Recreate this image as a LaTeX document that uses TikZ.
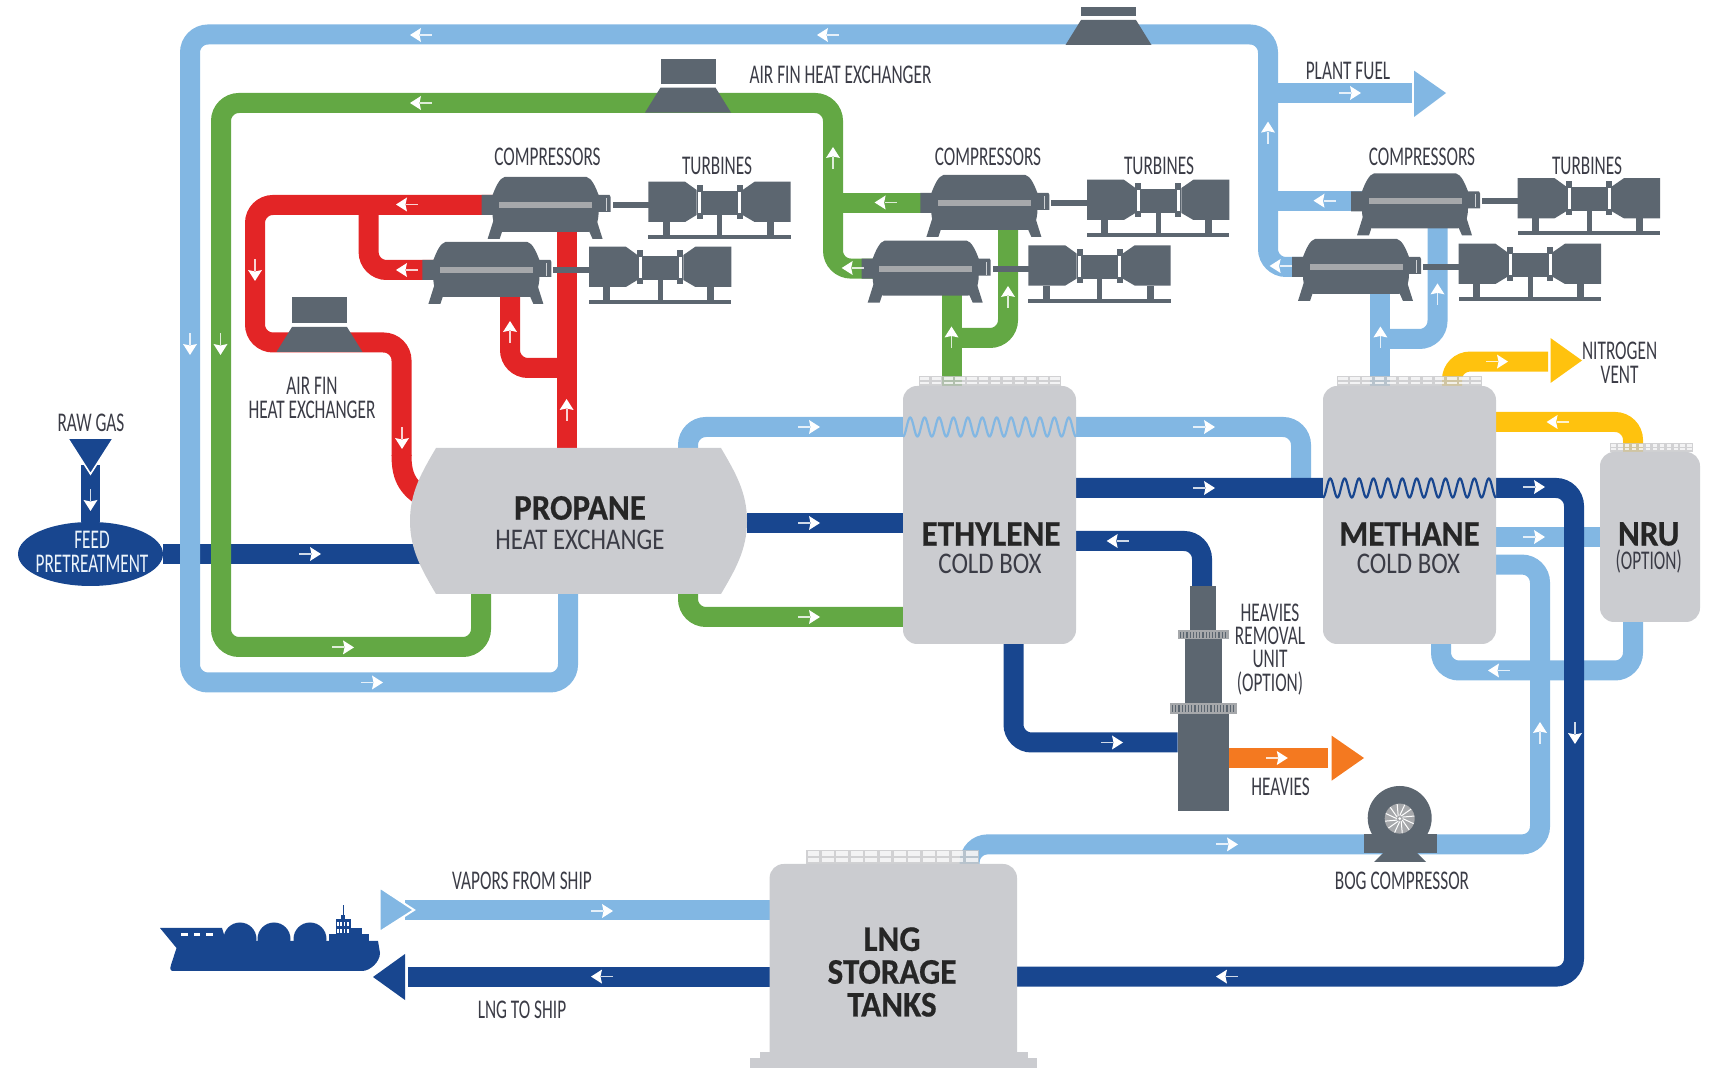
\documentclass[tikz,border=0pt]{standalone}
\usepackage{fontspec}
\usetikzlibrary{shapes.geometric}
\setmainfont{Carlito}
\newfontfamily\labfont[FakeStretch=0.64]{Carlito}
\newfontfamily\headfont[FakeStretch=0.83]{Carlito}
\newfontfamily\headbfont[FakeStretch=0.92,BoldFeatures={FakeBold=0.5}]{Carlito}
\definecolor{lb}{HTML}{82B7E3}
\definecolor{gr}{HTML}{63A844}
\definecolor{rd}{HTML}{E32526}
\definecolor{db}{HTML}{18468F}
\definecolor{vg}{HTML}{CBCCD0}
\definecolor{mg}{HTML}{5C6670}
\definecolor{ye}{HTML}{FFC20E}
\definecolor{og}{HTML}{F47920}
\definecolor{tx}{HTML}{3B3C46}
\definecolor{barg}{HTML}{A6A8AB}
\tikzset{
  pipe/.style={line width=10pt,rounded corners=9pt},
  vessel/.style={fill=vg,rounded corners=7pt,inner sep=0pt,outer sep=0pt},
  lab/.style={font=\labfont\fontsize{13.5}{15}\selectfont,text=tx,inner sep=0pt,align=center},
  wlab/.style={lab,text=white!85!lb},
  headb/.style={font=\headbfont\bfseries\fontsize{18}{19}\selectfont,text=black!85,inner sep=0pt,align=center},
  headn/.style={font=\headfont\fontsize{15}{17}\selectfont,text=tx,inner sep=0pt,align=center},
  comprun/.pic={
    \fill[mg] (-41,-28) -- (41,-28) .. controls (46,-27) and (50,-18) .. (53,-10) -- (64,-10) -- (65,-8) -- (65,7) -- (53,7) .. controls (53,16) and (50,27) .. (42,27) -- (-42,27) .. controls (-50,27) and (-53,16) .. (-53,10) -- (-64,10) -- (-64,-10) -- (-53,-10) .. controls (-50,-18) and (-46,-27) .. (-41,-28) -- cycle;
    \fill[mg] (-52,15) -- (-58,34) -- (-46,34) -- (-43,25) -- cycle;
    \fill[mg] (51,15) -- (57,34) -- (47,34) -- (43,25) -- cycle;
    \fill[barg] (-46.5,-3) rectangle (46.5,3);
    \fill[white!70!mg] (60,-7) rectangle (61,6);
    \fill[mg] (67,-3) rectangle (103,3);
    \fill[mg] (102.7,-23.3) -- (139.5,-23.3) -- (151,-15) -- (151,10) -- (139.5,17) -- (102.7,17) -- cycle;
    \fill[mg] (151,-20) rectangle (157,14);
    \fill[white] (152.5,-13) rectangle (155.5,8);
    \fill[mg] (157,-14) rectangle (191,10);
    \fill[mg] (191,-20) rectangle (197,14);
    \fill[white] (192.5,-13) rectangle (195.5,8);
    \fill[mg] (197,-15) -- (209,-23.3) -- (245,-23.3) -- (245,17) -- (209,17) -- (197,10) -- cycle;
    \fill[mg] (117,17) rectangle (124,30);
    \fill[mg] (171.5,10) rectangle (176.5,30);
    \fill[mg] (221,17) rectangle (228,30);
    \fill[mg] (102.7,30) rectangle (245,34);
  }
}
\newcommand{\flowarrow}[3]{%
  \begin{scope}[shift={(#1,#2)},rotate=#3]
    \fill[white,opacity=.8] (-11,-.9) rectangle (1,.9);
    \fill[white] (11,0) -- (0,-7) -- (1.5,0) -- (0,7) -- cycle;
  \end{scope}}
\newcommand{\airfin}[3]{%
  \begin{scope}[shift={(#1,#2)}]
    \fill[mg] (-43,0) -- (43,0) -- (27.5,-25) -- (-27.5,-25) -- cycle;
    \fill[mg] (-27.5,-28.5) rectangle (27.5,#3);
  \end{scope}}
\newcommand{\railing}[4]{% x1 x2 y1 y2
  \fill[barg!65!white,opacity=.8] (#1,#3) rectangle (#2,#4);
  \pgfmathsetmacro{\rw}{(#2-#1)/12}
  \foreach \i in {0,...,11}{
    \fill[white,opacity=.75] ({#1+\i*\rw+1.3},{#3+1.5}) rectangle ({#1+(\i+1)*\rw-1.3},{(#3+#4)/2-.6});
    \fill[white,opacity=.75] ({#1+\i*\rw+1.3},{(#3+#4)/2+.6}) rectangle ({#1+(\i+1)*\rw-1.3},{#4-1.5});
  }}
\begin{document}
\begin{tikzpicture}[x=0.5pt,y=-0.5pt]
\clip (0,0) rectangle (1709,1068);
% ---- vessels as named anchors
\node[inner sep=0pt,outer sep=0pt,minimum width=168.5pt,minimum height=73pt] (propane) at (578.5,521) {};
\node[vessel,minimum width=86.5pt,minimum height=129pt,fill=none] (ethylene) at (989.5,515) {};
\node[vessel,minimum width=86.5pt,minimum height=129pt,fill=none] (methane) at (1409.5,515) {};
\node[vessel,minimum width=50pt,minimum height=85pt,fill=none] (nru) at (1650,537) {};
\node[vessel,minimum width=123.7pt,minimum height=102pt,fill=none] (lng) at (893.3,966) {};
\node[ellipse,inner sep=0pt,outer sep=0pt,minimum width=72.5pt,minimum height=32pt] (feed) at (90.5,554) {};
\coordinate (plantEnd) at (1412,93);
\coordinate (nitroEnd) at (1548,361.6);
\coordinate (heavEnd) at (1328,758);
\coordinate (colTop) at (1202,586);
\coordinate (colSide) at (1177.5,742.5);
\coordinate (colEast) at (1228.5,758);
\coordinate (vapEnd) at (405,910.5);
\coordinate (shipEnd) at (408,976.6);
\coordinate (compA) at (545.6,205);
\coordinate (compB) at (486.4,270);
\coordinate (compC) at (984.4,203);
\coordinate (compD) at (925.7,268.6);
\coordinate (compE) at (1415,201.4);
\coordinate (compF) at (1356,267);
% ---- pipes
\draw[pipe,db,rounded corners=0pt] (feed) -- (propane.center |- feed);
\draw[pipe,db,rounded corners=0pt] (propane.east |- 0,523) -- (ethylene.west |- 0,523);
\draw[line width=9.5pt,db] (90.5,465) -- (feed);
% light blue loop
\draw[pipe,lb] (propane.south -| 568,0) -- (568,682.5) -- (190,682.5) -- (190,34.5) -- (1268,34.5) -- (1268,267) -- (compF);
\draw[pipe,lb,rounded corners=0pt] (1268,93) -- (plantEnd);
\draw[pipe,lb,rounded corners=0pt] (1268,201.4) -- (compE);
% green loop
\draw[pipe,gr] (propane.south -| 481,0) -- (481,647) -- (221,647) -- (221,103) -- (833,103) -- (833,268.6) -- (compD);
\draw[pipe,gr,rounded corners=0pt] (833,203) -- (compC);
% red
\draw[pipe,rd] (compA) -- (255,205) -- (255,342.5) -- (401.5,342.5) -- (401.5,456);
\draw[line width=10pt,rd] (401.5,455) .. controls (401.5,478) and (408,490) .. (432,502);
\draw[pipe,rd] (368.6,205) -- (368.6,270) -- (compB);
\draw[pipe,rd,rounded corners=0pt] (propane.north -| 566.6,0) -- (compA -| 566.6,0);
\draw[pipe,rd] (566.6,368) -- (510,368) -- (510,296);
% light blue exchangers
\draw[pipe,lb] (propane.north -| 688,0) -- (688,427) -- (ethylene.west |- 0,427);
\draw[pipe,lb] (ethylene.east |- 0,427) -- (1301,427) -- (1301,488);
% green lower
\draw[pipe,gr] (propane.south -| 688,0) -- (688,617) -- (ethylene.west |- 0,617);
% green up
\draw[pipe,gr,rounded corners=0pt] (ethylene.north -| 951.5,0) -- (compD -| 951.5,0);
\draw[pipe,gr] (951.5,338) -- (1008,338) -- (compC -| 1008,0);
% lb up
\draw[pipe,lb,rounded corners=0pt] (methane.north -| 1380.4,0) -- (compF -| 1380.4,0);
\draw[pipe,lb] (1380.4,339) -- (1437.5,339) -- (compE -| 1437.5,0);
% yellow
\draw[pipe,ye] (methane.north -| 1452,0) -- (1452,361.6) -- (nitroEnd);
\draw[pipe,ye] (methane.east |- 0,422) -- (1633,422) -- (nru.north -| 1633,0);
% light blue methane / NRU
\draw[pipe,lb,rounded corners=0pt] (methane.east |- 0,537) -- (nru.west |- 0,537);
\draw[pipe,lb] (nru.south -| 1633,0) -- (1633,670.5) -- (1441,670.5) -- (methane.south -| 1441,0);
\draw[pipe,lb] (methane.east |- 0,564.6) -- (1540,564.6) -- (1540,844.4) -- (969.6,844.4) -- (lng.north -| 969.6,0);
% vapor
\draw[pipe,lb,rounded corners=0pt] (lng.west |- vapEnd) -- (vapEnd);
% orange
\draw[pipe,og,rounded corners=0pt] (colEast) -- (heavEnd);
% dark blue
\draw[pipe,db] (ethylene.east |- 0,488) -- (1574,488) -- (1574,976.6) -- (lng.east |- 0,976.6);
\draw[pipe,db] (ethylene.east |- 0,541) -- (1202,541) -- (colTop);
\draw[pipe,db] (ethylene.south -| 1013.5,0) -- (1013.5,742.5) -- (colSide);
\draw[pipe,db,rounded corners=0pt] (lng.west |- shipEnd) -- (shipEnd);
% ---- arrow heads
\fill[lb] (1414,70.6) -- (1446,93) -- (1414,117) -- cycle;
\fill[ye] (1550.5,338) -- (1582,360.5) -- (1550.5,383) -- cycle;
\fill[og] (1331.6,735.6) -- (1364,758) -- (1331.6,780.7) -- cycle;
\fill[db] (373,977) -- (405,954) -- (405,1000) -- cycle;
\filldraw[fill=lb,draw=white,line width=1pt] (379.6,887.4) -- (414,910) -- (379.6,932) -- cycle;
\filldraw[fill=db,draw=white,line width=.8pt] (67.5,438) -- (113.5,438) -- (90.5,474) -- cycle;
% ---- feed ellipse
\fill[db] (feed) ellipse [x radius=72.5,y radius=32];
% ---- vessels
\fill[vg] (436,448) -- (721,448) .. controls (735,472) and (747,492) .. (747,521) .. controls (747,550) and (735,570) .. (721,594) -- (436,594) .. controls (422,570) and (410,550) .. (410,521) .. controls (410,492) and (422,472) .. (436,448) -- cycle;
\fill[vessel] (ethylene.south west) rectangle (ethylene.north east);
\fill[vessel] (methane.south west) rectangle (methane.north east);
\fill[vessel] (nru.south west) rectangle (nru.north east);
\fill[vessel] (lng.south west) rectangle (lng.north east);
\fill[vg] (760,1052) rectangle (1028,1068);
\fill[vg] (750,1058) rectangle (1036.5,1068);
\railing{918.5}{1061}{376}{386}
\railing{1337}{1482}{376}{386}
\railing{1610}{1693}{443}{452}
\railing{806.4}{979}{850}{864}
% coils
\draw[lb,line width=1.1pt] plot[domain=0:1,samples=260,smooth] ({903+173*\x},{427+9.5*cos(360*12*\x)});
\draw[db,line width=1.1pt] plot[domain=0:1,samples=260,smooth] ({1323+173*\x},{488+9.5*cos(360*12*\x)});
% ---- air fins
\airfin{688}{112.6}{-54}
\airfin{319.5}{352}{-55}
\airfin{1108.5}{45}{-38}
% ---- compressors and turbines
\pic at (compA) {comprun};
\pic at (compB) {comprun};
\pic at (compC) {comprun};
\pic at (compD) {comprun};
\pic at (compE) {comprun};
\pic at (compF) {comprun};
% ---- heavies column
\fill[mg] (1190,586) rectangle (1216,630);
\fill[mg] (1184.6,639) rectangle (1222,704);
\fill[mg] (1177.5,714) rectangle (1228.5,810.6);
\fill[barg] (1177.5,630) rectangle (1228.5,639.5);
\fill[barg] (1170,703) rectangle (1237,714);
\foreach \k in {0,...,14} {\fill[mg] ({1180+\k*3.2},632) rectangle ({1181.2+\k*3.2},638);}
\foreach \k in {0,...,19} {\fill[mg] ({1172+\k*3.2},705) rectangle ({1173.2+\k*3.2},712);}
% ---- BOG compressor
\fill[mg] (1399.7,818) circle [radius=32];
\fill[mg] (1364,834) rectangle (1437,853);
\fill[mg] (1383,853) -- (1417,853) -- (1426,862) -- (1374,862) -- cycle;
\fill[barg] (1399.7,818.6) circle [radius=15];
\foreach \a in {0,30,...,330} {\draw[white,line width=.5pt] (1399.7,818.6) ++(\a:3) -- ++(\a+25:12);}
\fill[white] (1399.7,818.6) circle [radius=1.5];
% ---- ship
\fill[db] (160,928) -- (222,928) -- (226,941) -- (378,941) -- (380,953) .. controls (380,962) and (370,971) .. (362,971) -- (173,971) .. controls (170,971) and (170,968) .. (171,965) -- (176.5,948) -- cycle;
\foreach \c in {240,274,310} {\fill[db] (\c,939) circle [radius=16.5];}
\fill[db] (329,934) rectangle (345,945);
\fill[db] (336,919) rectangle (351,945);
\fill[db] (351,928) rectangle (362,945);
\fill[db] (362,934) rectangle (369,945);
\fill[db] (341,915) rectangle (345,919);
\fill[db] (342.5,905) rectangle (343.8,915);
\foreach \k in {0,1,2} {\fill[white] ({181+\k*12.5},933) rectangle ({187.5+\k*12.5},936.5);}
\foreach \k in {0,1,2,3} {\fill[white] ({337+\k*3.4},922) rectangle ({338.5+\k*3.4},926);\fill[white] ({337+\k*3.4},929) rectangle ({338.5+\k*3.4},933);}
% ---- flow arrows
\foreach \ax/\ay/\ar in {421/35/180,828/35/180,421/103/180,833/158/90,407/204.5/180,407/270/180,255/270/270,402/438/270,510/332/90,566.6/410/90,190/344/270,220.5/344/270,90.5/500/270,809/427/0,809/523/0,310/554/0,343/647.4/0,372/682.5/0,809/617/0,602/911/0,602/976.6/180,1350/93/0,1268/132.6/90,1324.5/200.7/180,1280.6/266/180,885.6/202.5/180,852.7/268/180,1008/297/90,951.5/337.5/90,1380.4/337.5/90,1437.5/294.4/90,1497/361.6/0,1557.6/422/180,1204/427/0,1204/488/0,1534/487/0,1534/537/0,1117.7/541/180,1112/742.5/0,1276.8/758/0,1499/670.5/180,1540/733/90,1575/733/270,1227/844.4/0,1227/976.6/180} {\flowarrow{\ax}{\ay}{\ar}}
% ---- labels
\node[lab] (tAirTop) at (840.5,75) {AIR FIN HEAT EXCHANGER};
\node[lab] (tCompA) at (547.5,157) {COMPRESSORS};
\node[lab] (tTurbA) at (717,166) {TURBINES};
\node[lab] (tCompB) at (988,157) {COMPRESSORS};
\node[lab] (tTurbB) at (1159,166) {TURBINES};
\node[lab] (tCompC) at (1422,157) {COMPRESSORS};
\node[lab] (tTurbC) at (1587,166) {TURBINES};
\node[lab] (tPlant) at (1348,70.6) {PLANT FUEL};
\node[lab] (tNitro) at (1619.6,363) {NITROGEN\\[-3pt]VENT};
\node[lab] (tAirFin) at (312,398) {AIR FIN\\[-3pt]HEAT EXCHANGER};
\node[lab] (tRaw) at (91,422.5) {RAW GAS};
\node[wlab] (tFeed) at (92,551.5) {FEED\\[-3pt]PRETREATMENT};
\node[headb] (tProp) at (580,508) {PROPANE};
\node[headn] (tPropb) at (580,539.6) {HEAT EXCHANGE};
\node[headb] (tEth) at (991,534) {ETHYLENE};
\node[headn] (tEthb) at (990,563.5) {COLD BOX};
\node[headb] (tMeth) at (1409.5,534) {METHANE};
\node[headn] (tMethb) at (1408.4,563.5) {COLD BOX};
\node[headb] (tNru) at (1648.7,534) {NRU};
\node[lab] (tNrub) at (1648.7,561.7) {(OPTION)};
\node[headb] (tLng) at (892,972) {LNG\\[-2.6pt]STORAGE\\[-2.6pt]TANKS};
\node[lab] (tHeavy) at (1270,649.5) {HEAVIES\\[-3.4pt]REMOVAL\\[-3.4pt]UNIT\\[-3.4pt](OPTION)};
\node[lab] (tHeav) at (1280.6,787) {HEAVIES};
\node[lab] (tBog) at (1402,880.5) {BOG COMPRESSOR};
\node[lab] (tVap) at (522,880.5) {VAPORS FROM SHIP};
\node[lab] (tShip) at (522,1010) {LNG TO SHIP};
\end{tikzpicture}
\end{document}
